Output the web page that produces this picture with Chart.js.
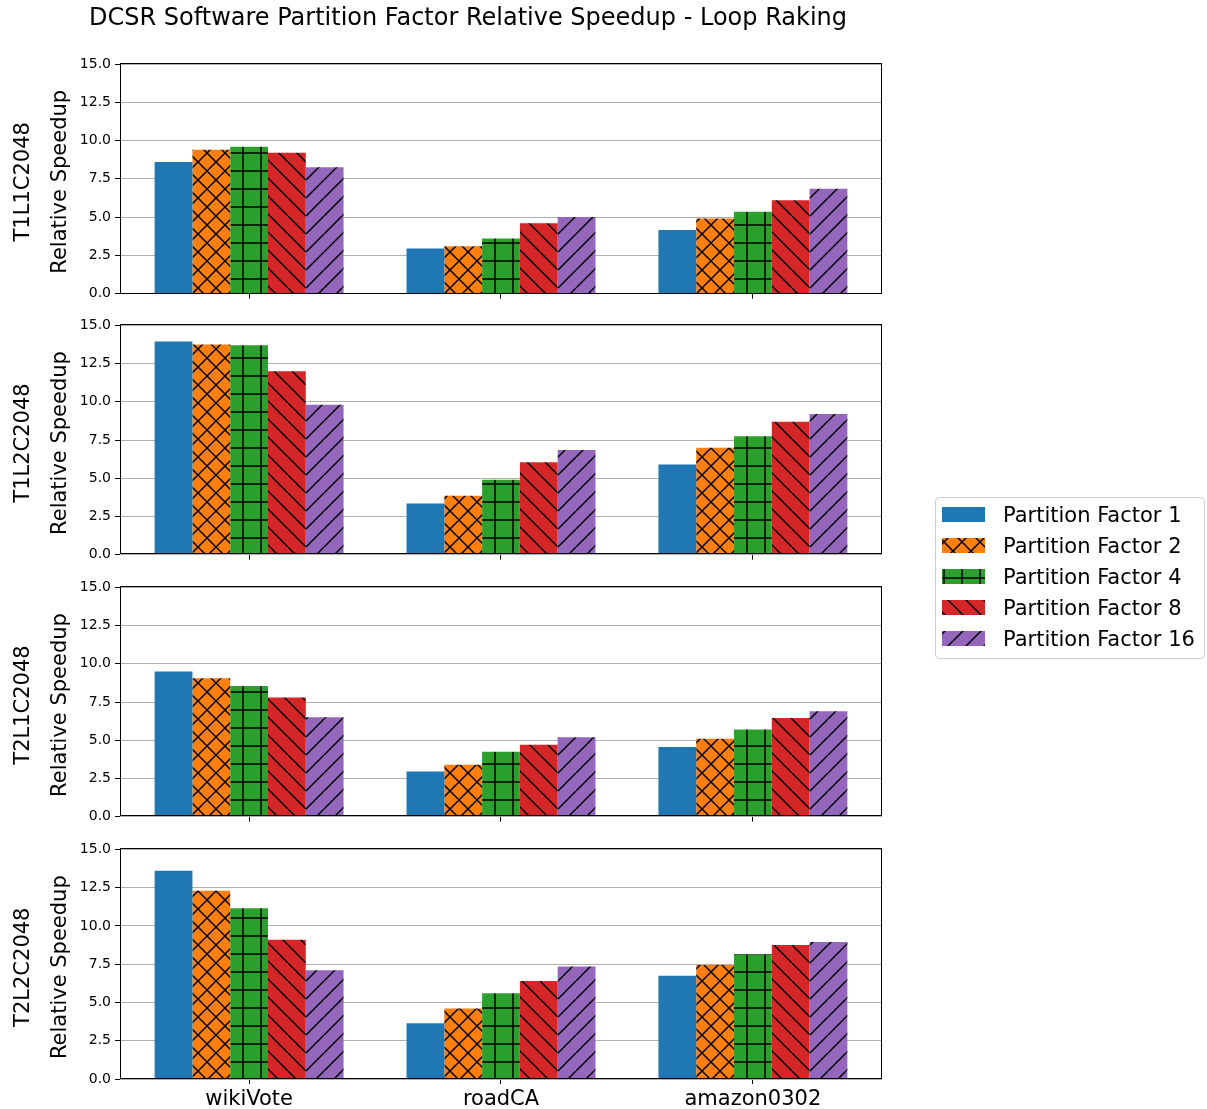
<!DOCTYPE html>
<html>
<head>
<meta charset="utf-8">
<title>DCSR Software Partition Factor Relative Speedup - Loop Raking</title>
<script src="https://cdn.jsdelivr.net/npm/chart.js@4.4.1/dist/chart.umd.min.js"></script>
<style>
  html, body { margin: 0; padding: 0; background: #ffffff; }
  #fig { position: relative; width: 1207px; height: 1109px; overflow: hidden; background: #ffffff; }
  #fig canvas { position: absolute; }
</style>
</head>
<body>
<div id="fig"></div>
<script>
// ---- data ----
const categories = ['wikiVote', 'roadCA', 'amazon0302'];
const panelNames = ['T1L1C2048', 'T1L2C2048', 'T2L1C2048', 'T2L2C2048'];
const seriesLabels = ['Partition Factor 1', 'Partition Factor 2', 'Partition Factor 4', 'Partition Factor 8', 'Partition Factor 16'];
const yTicks = [0, 2.5, 5, 7.5, 10, 12.5, 15];
const figTitle = 'DCSR Software Partition Factor Relative Speedup - Loop Raking';

// one row per panel (T1L1, T1L2, T2L1, T2L2), one value per category
const pf1  = [[8.60, 2.95, 4.15], [13.95, 3.35, 5.90], [9.50, 2.95, 4.55], [13.60, 3.65, 6.75]];
const pf2  = [[9.40, 3.10, 4.90], [13.75, 3.85, 7.00], [9.05, 3.40, 5.10], [12.30, 4.60, 7.45]];
const pf4  = [[9.60, 3.60, 5.35], [13.70, 4.90, 7.75], [8.55, 4.25, 5.70], [11.15, 5.60, 8.15]];
const pf8  = [[9.20, 4.60, 6.10], [12.00, 6.05, 8.70], [7.80, 4.70, 6.45], [9.10, 6.40, 8.75]];
const pf16 = [[8.25, 5.00, 6.85], [9.80, 6.85, 9.20], [6.50, 5.20, 6.90], [7.10, 7.35, 8.95]];
const seriesValues = [pf1, pf2, pf4, pf8, pf16];

// ---- style ----
const colors = ['#1f77b4', '#ff7f0e', '#2ca02c', '#d62728', '#9467bd'];
const hatches = ['', 'x', '+', '\\', '/'];
const FONT = "'DejaVu Sans', 'Liberation Sans', sans-serif";

Chart.defaults.font.family = FONT;
Chart.defaults.color = '#000000';

function hatchFill(color, kind) {
  if (!kind) return color;
  const s = 18;
  const c = document.createElement('canvas');
  c.width = s; c.height = s;
  const g = c.getContext('2d');
  g.fillStyle = color;
  g.fillRect(0, 0, s, s);
  g.strokeStyle = '#000000';
  g.lineWidth = 1.5;
  g.beginPath();
  for (let k = -1; k <= 1; k++) {
    if (kind === '/' || kind === 'x') { g.moveTo(k * s, s); g.lineTo(k * s + s, 0); }
    if (kind === '\\' || kind === 'x') { g.moveTo(k * s, 0); g.lineTo(k * s + s, s); }
  }
  if (kind === '+') {
    g.moveTo(0, s / 2); g.lineTo(s, s / 2);
    g.moveTo(s / 2, 0); g.lineTo(s / 2, s);
  }
  g.stroke();
  return g.createPattern(c, 'repeat');
}
const fills = colors.map((c, i) => hatchFill(c, hatches[i]));

// ---- layout of the four panels ----
const FIG_W = 936;           // canvas width shared by the panels
const PLOT_LEFT = 120, PLOT_RIGHT = 882, PLOT_H = 230;
const plotTops = [64, 325, 587, 849];
const X_MIN = -0.5125, X_MAX = 2.5125;   // category index range with margins

const fig = document.getElementById('fig');

function makeCanvas(left, top, w, h) {
  const c = document.createElement('canvas');
  c.width = w; c.height = h;
  c.style.left = left + 'px'; c.style.top = top + 'px';
  c.style.width = w + 'px'; c.style.height = h + 'px';
  fig.appendChild(c);
  return c;
}

function rotatedText(ctx, text, x, y, size) {
  ctx.save();
  ctx.fillStyle = '#000000';
  ctx.textAlign = 'center';
  ctx.textBaseline = 'middle';
  ctx.font = size + 'px ' + FONT;
  ctx.translate(x, y);
  ctx.rotate(-Math.PI / 2);
  ctx.fillText(text, 0, 0);
  ctx.restore();
}

// frame around the plot area, the two-part y label and the figure title
const panelDecor = {
  id: 'panelDecor',
  afterDatasetsDraw(chart) {
    const { ctx, chartArea: a } = chart;
    ctx.save();
    ctx.strokeStyle = '#000000';
    ctx.lineWidth = 1;
    ctx.strokeRect(Math.round(a.left) + 0.5, Math.round(a.top) - 0.5,
                   Math.round(a.right - a.left) - 1, Math.round(a.bottom - a.top));
    ctx.restore();
  },
  afterDraw(chart, args, opts) {
    const { ctx, chartArea: a } = chart;
    const cy = (a.top + a.bottom) / 2 + 3;
    rotatedText(ctx, opts.name, opts.nameX, cy, 21);
    rotatedText(ctx, opts.label, opts.labelX, cy, 21);
    if (opts.title) {
      ctx.save();
      ctx.fillStyle = '#000000';
      ctx.textAlign = 'center';
      ctx.textBaseline = 'middle';
      ctx.font = '24px ' + FONT;
      ctx.fillText(opts.title, 468, 19);
      ctx.restore();
    }
  }
};

panelNames.forEach((name, p) => {
  const isFirst = p === 0;
  const isLast = p === panelNames.length - 1;
  const padTop = isFirst ? 64 : 12;
  const xAxisH = isLast ? 30 : 12;
  const canvasTop = plotTops[p] - padTop;
  const canvasH = padTop + PLOT_H + xAxisH;
  const cv = makeCanvas(0, canvasTop, FIG_W, canvasH);

  new Chart(cv, {
    type: 'bar',
    data: {
      datasets: seriesLabels.map((lab, i) => ({
        label: lab,
        data: categories.map((c, j) => ({ x: j, y: seriesValues[i][p][j] })),
        backgroundColor: fills[i],
        borderWidth: 0,
        barPercentage: 1.0,
        categoryPercentage: 0.75
      }))
    },
    options: {
      responsive: false,
      animation: false,
      devicePixelRatio: 1,
      layout: { padding: { top: padTop, left: 0, right: FIG_W - PLOT_RIGHT, bottom: 0 } },
      plugins: {
        legend: { display: false },
        tooltip: { enabled: false },
        title: { display: false },
        panelDecor: { name: name, label: 'Relative Speedup', nameX: 24, labelX: 61, title: isFirst ? figTitle : '' }
      },
      scales: {
        x: {
          type: 'linear',
          min: X_MIN, max: X_MAX,
          offset: false,
          afterBuildTicks(scale) { scale.ticks = categories.map((c, j) => ({ value: j })); },
          grid: { display: true, offset: false, drawOnChartArea: false, tickLength: 5, tickColor: '#000000', tickWidth: 1 },
          border: { display: false },
          ticks: { display: isLast, font: { size: 21 }, color: '#000000', padding: 3, maxRotation: 0,
                   autoSkip: false, callback: v => categories[v] },
          afterFit(scale) { scale.height = xAxisH; }
        },
        y: {
          min: 0, max: 15,
          afterBuildTicks(scale) { scale.ticks = yTicks.map(v => ({ value: v })); },
          ticks: { font: { size: 14 }, color: '#000000', padding: 4, callback: v => Number(v).toFixed(1) },
          grid: { color: '#b0b0b0', lineWidth: 1, tickColor: '#000000', tickLength: 5 },
          border: { display: false },
          afterFit(scale) { scale.width = PLOT_LEFT; }
        }
      }
    },
    plugins: [panelDecor]
  });
});

// ---- legend ----
const legendBox = {
  id: 'legendBox',
  afterDraw(chart) {
    const { ctx } = chart;
    const W = chart.width, H = chart.height;
    ctx.save();
    const r = 4;
    ctx.beginPath();
    ctx.moveTo(0.5 + r, 0.5);
    ctx.lineTo(W - 1.5 - r, 0.5);
    ctx.quadraticCurveTo(W - 1.5, 0.5, W - 1.5, 0.5 + r);
    ctx.lineTo(W - 1.5, H - 0.5 - r);
    ctx.quadraticCurveTo(W - 1.5, H - 0.5, W - 1.5 - r, H - 0.5);
    ctx.lineTo(0.5 + r, H - 0.5);
    ctx.quadraticCurveTo(0.5, H - 0.5, 0.5, H - 0.5 - r);
    ctx.lineTo(0.5, 0.5 + r);
    ctx.quadraticCurveTo(0.5, 0.5, 0.5 + r, 0.5);
    ctx.closePath();
    ctx.fillStyle = 'rgba(255,255,255,0.8)';
    ctx.fill();
    ctx.strokeStyle = '#cccccc';
    ctx.lineWidth = 1;
    ctx.stroke();
    chart.data.datasets.forEach((ds, i) => {
      const top = 10 + i * 31;
      ctx.fillStyle = ds.backgroundColor;
      ctx.fillRect(7, top, 43, 15);
      ctx.fillStyle = '#000000';
      ctx.font = '21px ' + FONT;
      ctx.textAlign = 'left';
      ctx.textBaseline = 'alphabetic';
      ctx.fillText(ds.label, 68, top + 15);
    });
    ctx.restore();
  }
};

const lc = makeCanvas(935, 497, 271, 162);
new Chart(lc, {
  type: 'bar',
  data: {
    labels: [],
    datasets: seriesLabels.map((lab, i) => ({ label: lab, data: [], backgroundColor: fills[i] }))
  },
  options: {
    responsive: false,
    animation: false,
    devicePixelRatio: 1,
    plugins: { legend: { display: false }, tooltip: { enabled: false } },
    scales: { x: { display: false }, y: { display: false } }
  },
  plugins: [legendBox]
});
</script>
</body>
</html>
